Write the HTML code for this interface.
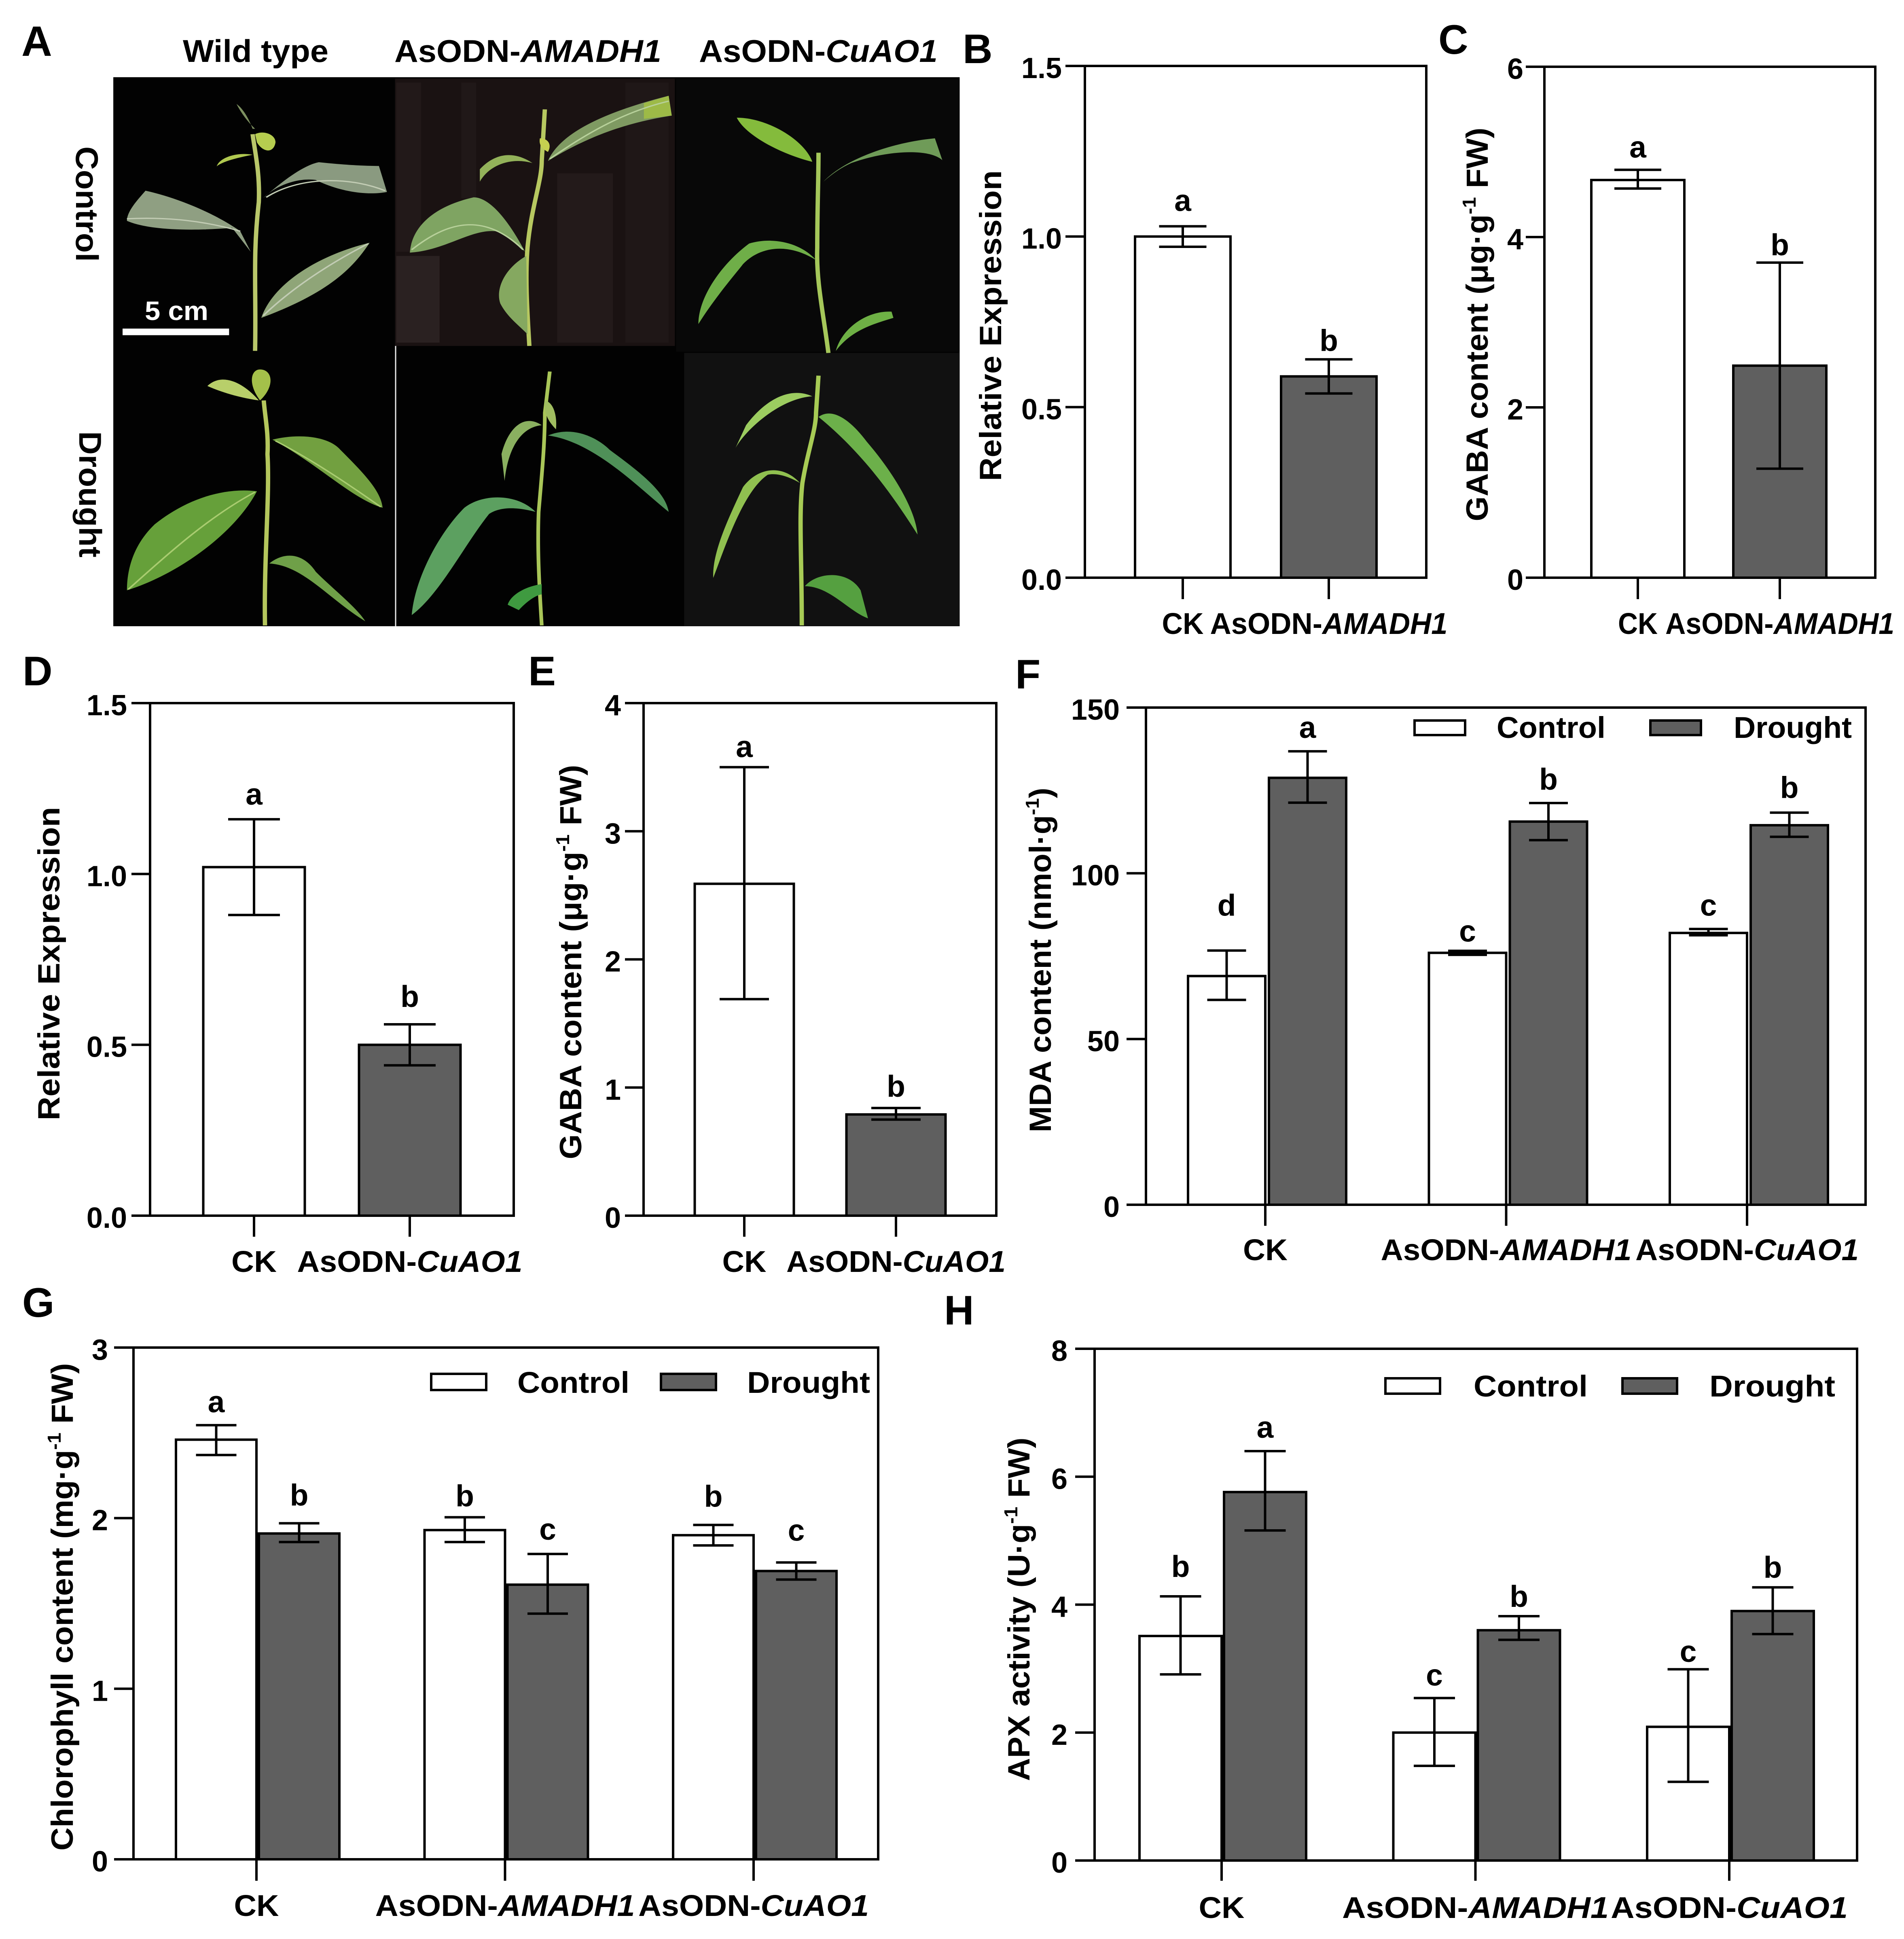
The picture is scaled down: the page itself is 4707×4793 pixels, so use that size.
<!DOCTYPE html>
<html lang="en">
<head>
<meta charset="utf-8">
<title>Eight-panel plant drought figure</title>
<style>
html,body{margin:0;padding:0;background:#fff}
svg{display:block}
text{font-family:"Liberation Sans",Arial,sans-serif;font-weight:bold;fill:#000}
</style>
</head>
<body>
<svg id="figure" xmlns="http://www.w3.org/2000/svg" width="4707" height="4793" viewBox="0 0 4707 4793">
<rect width="4707" height="4793" fill="#fff"/>

<g id="panel-a">
  <text x="53" y="138" font-size="105">A</text>
  <text x="452" y="153" font-size="78" textLength="360" lengthAdjust="spacingAndGlyphs">Wild type</text>
  <text x="975" y="153" font-size="78" textLength="660" lengthAdjust="spacingAndGlyphs">AsODN-<tspan font-style="italic">AMADH1</tspan></text>
  <text x="1728" y="153" font-size="78" textLength="590" lengthAdjust="spacingAndGlyphs">AsODN-<tspan font-style="italic">CuAO1</tspan></text>
  <text transform="translate(188 362) rotate(90)" font-size="78" textLength="285" lengthAdjust="spacingAndGlyphs">Control</text>
  <text transform="translate(196 1066) rotate(90)" font-size="78" textLength="312" lengthAdjust="spacingAndGlyphs">Drought</text>

  <g transform="scale(1.5306 1.0204)">
    <rect x="183" y="187" width="1367" height="1330" fill="#020202"/>
    <rect x="638" y="190" width="452" height="648" fill="#1a1212"/>
    <g>
      <rect x="640" y="200" width="40" height="410" fill="#221919"/><rect x="745" y="200" width="24" height="280" fill="#201818"/><rect x="900" y="420" width="90" height="410" fill="#231a1a"/><rect x="640" y="620" width="70" height="210" fill="#2a2121"/><rect x="1010" y="200" width="70" height="630" fill="#1f1717"/>
    </g>
    <rect x="1105" y="855" width="445" height="662" fill="#111111"/>
    <rect x="1092" y="190" width="458" height="662" fill="#080808"/>
    <rect x="638" y="838" width="2" height="679" fill="#e8e8e8"/>

    <g>
      <path d="M412,850 C414,700 408,620 418,490 C420,420 412,370 408,325" fill="none" stroke="#b9c76a" stroke-width="7"/>
      <path d="M405,610 L388,560 C350,520 290,480 235,462 C225,480 205,510 205,535 C240,558 310,560 375,552 Z" fill="#8f9f82"/>
      <path d="M425,480 C455,440 490,400 515,393 C560,400 590,402 612,402 L625,465 C590,475 545,462 510,436 C480,430 445,450 425,480 Z" fill="#8a9a80"/>
      <path d="M422,770 C440,690 510,620 597,588 C570,650 530,710 422,770 Z" fill="#8fa578"/>
      <path d="M412,325 C425,315 445,325 445,345 C442,372 425,370 415,345 Z" fill="#b6cd4f"/>
      <path d="M350,403 C355,380 385,368 408,375 C390,380 360,390 350,403 Z" fill="#b0c850"/>
      <path d="M408,312 C400,280 390,260 382,252 C390,275 400,295 412,312 Z" fill="#7d9060"/>
      <path d="M205,530 C270,525 330,535 388,560 M430,478 C480,430 560,425 622,462 M425,765 C470,700 530,640 595,590" fill="none" stroke="#c2ccb4" stroke-width="3"/>
    </g>
    <g>
      <path d="M855,838 C852,760 848,680 852,600 C858,500 875,440 875,390 L880,265" fill="none" stroke="#b7c860" stroke-width="7"/>
      <path d="M885,390 C905,320 980,270 1080,232 L1085,280 C1020,295 955,325 885,390 Z" fill="#7f9a62"/>
      <path d="M1040,250 L1080,232 L1085,280 L1040,288 Z" fill="#9dba47"/>
      <path d="M848,610 C820,530 790,478 765,478 C700,500 665,550 662,612 C720,606 760,555 800,560 C820,570 835,590 848,610 Z" fill="#7fa462"/>
      <path d="M860,395 C830,365 800,370 775,410 L775,440 C790,400 825,380 860,395 Z" fill="#93b25a"/>
      <path d="M850,620 C815,650 800,700 808,735 C820,770 840,790 852,810 Z" fill="#85a860"/>
      <path d="M872,335 C885,335 892,350 885,368 C875,360 870,350 872,335 Z" fill="#c5d050"/>
      <path d="M665,605 C720,540 780,510 845,605 M888,385 C950,320 1010,270 1080,245" fill="none" stroke="#b7d09a" stroke-width="3"/>
    </g>
    <g>
      <path d="M1338,855 C1330,760 1318,680 1320,600 C1320,500 1322,440 1322,370" fill="none" stroke="#a5c75a" stroke-width="7"/>
      <path d="M1312,392 C1300,340 1240,285 1190,285 C1205,330 1265,375 1312,392 Z" fill="#84bb3c"/>
      <path d="M1330,440 C1365,385 1440,345 1510,335 L1522,388 C1500,358 1430,365 1375,395 C1360,405 1345,420 1330,440 Z" fill="#6f9b58"/>
      <path d="M1318,630 C1295,590 1250,572 1210,590 C1165,640 1128,720 1128,785 C1155,720 1190,660 1200,640 C1225,600 1270,585 1318,630 Z" fill="#6fae48"/>
      <path d="M1350,850 C1360,795 1400,752 1440,755 L1443,770 C1410,785 1375,800 1350,850 Z" fill="#6eb045"/>
    </g>
    <g>
      <path d="M428,1515 C426,1350 436,1200 432,1100 C434,1050 428,1010 426,970" fill="none" stroke="#b4c65c" stroke-width="7"/>
      <path d="M418,970 C395,930 360,900 335,935 C365,955 395,965 418,970 Z" fill="#b8cf6a"/>
      <path d="M420,970 C400,930 405,895 420,895 C440,895 445,935 420,970 Z" fill="#a4c04a"/>
      <path d="M440,1065 C480,1050 530,1055 550,1090 C590,1150 615,1190 618,1230 C570,1210 510,1120 440,1065 Z" fill="#72a040"/>
      <path d="M415,1190 C360,1180 300,1210 250,1270 C215,1320 205,1380 205,1430 C290,1390 380,1290 415,1190 Z" fill="#66a03a"/>
      <path d="M435,1365 C460,1335 490,1340 510,1385 C540,1430 575,1470 590,1505 C530,1450 490,1370 435,1365 Z" fill="#6fa048"/>
      <path d="M207,1428 C280,1330 340,1250 412,1192 M445,1068 C500,1110 560,1170 615,1228" fill="none" stroke="#a9cc70" stroke-width="3"/>
    </g>
    <g>
      <path d="M875,1515 C870,1400 868,1320 870,1240 C875,1150 880,1080 880,1000 L888,900" fill="none" stroke="#a9c658" stroke-width="6"/>
      <path d="M875,1030 C845,1000 820,1040 810,1100 L815,1165 C820,1090 840,1035 875,1030 Z" fill="#8ab060"/>
      <path d="M885,1055 C925,1030 965,1060 985,1090 C1030,1140 1075,1190 1080,1240 C1030,1180 960,1070 885,1055 Z" fill="#4f9058"/>
      <path d="M865,1240 C835,1195 780,1195 750,1230 C710,1290 670,1400 665,1490 C710,1440 750,1320 790,1245 C810,1225 840,1230 865,1240 Z" fill="#5ca060"/>
      <path d="M875,1415 C850,1420 825,1440 820,1465 L838,1478 C855,1450 870,1440 875,1440 Z" fill="#3f9a40"/>
      <path d="M880,970 C895,975 900,1010 898,1040 C885,1020 878,1000 880,970 Z" fill="#a0bd60"/>
    </g>
    <g>
      <path d="M1295,1515 C1295,1350 1290,1250 1296,1170 C1305,1090 1318,1040 1318,1000 L1322,910" fill="none" stroke="#a7cb55" stroke-width="7"/>
      <path d="M1312,960 C1275,935 1235,970 1205,1030 L1188,1085 C1205,1040 1260,965 1312,960 Z" fill="#9ccc60"/>
      <path d="M1322,1010 C1345,985 1375,1020 1400,1070 C1440,1140 1478,1230 1482,1295 C1450,1220 1400,1105 1322,1010 Z" fill="#6cb04a"/>
      <path d="M1292,1170 C1265,1125 1225,1130 1200,1180 C1175,1260 1150,1340 1152,1400 C1170,1330 1200,1190 1240,1150 C1255,1145 1275,1155 1292,1170 Z" fill="#90c050"/>
      <path d="M1300,1420 C1320,1385 1370,1380 1390,1430 L1402,1498 C1370,1480 1340,1420 1300,1420 Z" fill="#55a040"/>
    </g>
    <rect x="198" y="796" width="172" height="16" fill="#fff"/>
  </g>
  <text x="358" y="791" font-size="66" style="fill:#fff" textLength="157" lengthAdjust="spacingAndGlyphs">5 cm</text>
</g>

<text x="2380" y="156" font-size="102">B</text>
<text x="3556" y="133" font-size="102">C</text>
<text x="56" y="1694" font-size="102">D</text>
<text x="1306" y="1694" font-size="102">E</text>
<text x="2510" y="1702" font-size="102">F</text>
<text x="55" y="3255" font-size="102">G</text>
<text x="2334" y="3274" font-size="102">H</text>
</svg>

<script>
// ---------- Chart data ----------
const bCategories = ['CK', 'AsODN-AMADH1'];
const bTickLabels = ['0.0', '0.5', '1.0', '1.5'];
const bValues = [1.0, 0.59];
const bUpper = [1.03, 0.64];
const bLower = [0.97, 0.54];
const bLetters = ['a', 'b'];

const cCategories = ['CK', 'AsODN-AMADH1'];
const cTickLabels = ['0', '2', '4', '6'];
const cValues = [4.67, 2.49];
const cUpper = [4.79, 3.7];
const cLower = [4.57, 1.28];
const cLetters = ['a', 'b'];

const dCategories = ['CK', 'AsODN-CuAO1'];
const dTickLabels = ['0.0', '0.5', '1.0', '1.5'];
const dValues = [1.02, 0.5];
const dUpper = [1.16, 0.56];
const dLower = [0.88, 0.44];
const dLetters = ['a', 'b'];

const eCategories = ['CK', 'AsODN-CuAO1'];
const eTickLabels = ['0', '1', '2', '3', '4'];
const eValues = [2.59, 0.79];
const eUpper = [3.5, 0.84];
const eLower = [1.69, 0.75];
const eLetters = ['a', 'b'];

const fCategories = ['CK', 'AsODN-AMADH1', 'AsODN-CuAO1'];
const fTickLabels = ['0', '50', '100', '150'];
const fControl = [69, 76, 82];
const fControlUpper = [76.7, 76.6, 83.2];
const fControlLower = [61.8, 75.4, 81.3];
const fControlLetters = ['d', 'c', 'c'];
const fDrought = [128.8, 115.6, 114.5];
const fDroughtUpper = [136.8, 121.2, 118.3];
const fDroughtLower = [121.3, 110, 111];
const fDroughtLetters = ['a', 'b', 'b'];

const gCategories = ['CK', 'AsODN-AMADH1', 'AsODN-CuAO1'];
const gTickLabels = ['0', '1', '2', '3'];
const gControl = [2.46, 1.93, 1.9];
const gControlUpper = [2.545, 2.005, 1.96];
const gControlLower = [2.37, 1.86, 1.84];
const gControlLetters = ['a', 'b', 'b'];
const gDrought = [1.91, 1.61, 1.69];
const gDroughtUpper = [1.97, 1.79, 1.74];
const gDroughtLower = [1.86, 1.44, 1.64];
const gDroughtLetters = ['b', 'c', 'c'];

const hCategories = ['CK', 'AsODN-AMADH1', 'AsODN-CuAO1'];
const hTickLabels = ['0', '2', '4', '6', '8'];
const hControl = [3.51, 2.0, 2.09];
const hControlUpper = [4.13, 2.54, 2.99];
const hControlLower = [2.91, 1.48, 1.23];
const hControlLetters = ['b', 'c', 'c'];
const hDrought = [5.76, 3.6, 3.9];
const hDroughtUpper = [6.4, 3.82, 4.27];
const hDroughtLower = [5.16, 3.45, 3.54];
const hDroughtLetters = ['a', 'b', 'b'];

const seriesNames = ['Control', 'Drought'];

// ---------- Layout (frame geometry, separate from the data) ----------
const layoutB = {id:'b', left:2682, right:3526, top:163, bottom:1428, tickLeft:2634, labelRight:2625, tickBottom:1481,
  x0:2924, step:361, barW:236, capW:117, xBase:1567, xLens:[103,587], titleX:2475, titleMid:805, titleLen:768,
  title:['Relative Expression'], gaps:[38,21]};
const layoutC = {id:'c', left:3818, right:4636, top:165, bottom:1428, tickLeft:3772, labelRight:3766, tickBottom:1481,
  x0:4049, step:351, barW:230, capW:116, xBase:1567, xLens:[98,566], titleX:3678, titleMid:802, titleLen:973,
  title:['GABA content (\u03BCg\u00B7g', '-1', ' FW)'], gaps:[30,18]};
const layoutD = {id:'d', left:371, right:1270, top:1738, bottom:3005, tickLeft:325, labelRight:314, tickBottom:3057,
  x0:628, step:385, barW:251, capW:128, xBase:3144, xLens:[112,557], titleX:147, titleMid:2382, titleLen:775,
  title:['Relative Expression'], gaps:[36,43]};
const layoutE = {id:'e', left:1591, right:2463, top:1738, bottom:3005, tickLeft:1545, labelRight:1535, tickBottom:3057,
  x0:1840, step:375, barW:245, capW:122, xBase:3144, xLens:[109,542], titleX:1437, titleMid:2378, titleLen:975,
  title:['GABA content (\u03BCg\u00B7g', '-1', ' FW)'], gaps:[25,28]};
const layoutF = {id:'f', left:2833, right:4612, top:1749, bottom:2978, tickLeft:2785, labelRight:2768, tickBottom:3030,
  x0:3128, step:595.5, barW:191, barGap:9, capW:96, xBase:3115, xLens:[110,620,552], titleX:2598, titleMid:2373, titleLen:852,
  title:['MDA content (nmol\u00B7g', '-1', ')'], controlGaps:[86,23,33], droughtGaps:[33,33,36],
  legend:{swatchY:1781, swatchH:36, swatchW:125, base:1824, swatchX:[3497,4080], textX:[3700,4286], textLen:[269,292]}};
const layoutG = {id:'g', left:330, right:2171, top:3331, bottom:4596, tickLeft:282, labelRight:267, tickBottom:4649,
  x0:634, step:614.5, barW:199, barGap:6, capW:100, xBase:4736, xLens:[111,642,570], titleX:180, titleMid:3972, titleLen:1205,
  title:['Chlorophyll content (mg\u00B7g', '-1', ' FW)'], controlGaps:[32,27,45], droughtGaps:[44,35,54],
  legend:{swatchY:3396, swatchH:40, swatchW:136, base:3443, swatchX:[1066,1634], textX:[1279,1847], textLen:[277,304]}};
const layoutH = {id:'h', left:2706, right:4591, top:3334, bottom:4599, tickLeft:2658, labelRight:2639, tickBottom:4649,
  x0:3020, step:627.5, barW:203, barGap:6, capW:102, xBase:4741, xLens:[113,659,586], titleX:2545, titleMid:3978, titleLen:849,
  title:['APX activity (U\u00B7g', '-1', ' FW)'], controlGaps:[48,31,18], droughtGaps:[33,23,24],
  legend:{swatchY:3407, swatchH:38, swatchW:135, base:3452, swatchX:[3425,4011], textX:[3643,4226], textLen:[282,311]}};

const INK = '#000';
const DARK = '#5f5f5f';
const LINE = 6;
const svg = document.getElementById('figure');

function mk(tag, attrs, parent) {
  const el = document.createElementNS('http://www.w3.org/2000/svg', tag);
  for (const k in attrs) el.setAttribute(k, attrs[k]);
  parent.appendChild(el);
  return el;
}
function yAxis(p, ticks) {
  const max = parseFloat(ticks[ticks.length - 1]);
  return v => p.bottom - (v / max) * (p.bottom - p.top);
}
function addCategoryText(el, label) {
  const cut = label.indexOf('-');
  if (cut < 0) { el.textContent = label; return; }
  el.appendChild(document.createTextNode(label.slice(0, cut + 1)));
  const it = mk('tspan', {'font-style': 'italic'}, el);
  it.textContent = label.slice(cut + 1);
}
function drawFrame(p, group, y, ticks, categories, tickX) {
  const box = mk('rect', {x:p.left, y:p.top, width:p.right-p.left, height:p.bottom-p.top, fill:'none', stroke:INK, 'stroke-width':LINE}, group);
  
  
  ticks.forEach(label => {
    const ty = y(parseFloat(label));
    const line = mk('line', {x1:p.tickLeft, x2:p.left, y1:ty, y2:ty, stroke:INK, 'stroke-width':LINE}, group);
    
    
    const t = mk('text', {x:p.labelRight, y:ty+30, 'font-size':72, 'text-anchor':'end'}, group);
    
    
    t.textContent = label;
  });
  categories.forEach((label, i) => {
    const cx = tickX(i);
    const line = mk('line', {x1:cx, x2:cx, y1:p.bottom, y2:p.tickBottom, stroke:INK, 'stroke-width':LINE}, group);
    
    
    const t = mk('text', {x:cx - p.xLens[i]/2, y:p.xBase, 'font-size':74, textLength:p.xLens[i], lengthAdjust:'spacingAndGlyphs'}, group);
    
    
    addCategoryText(t, label);
  });
  const title = mk('text', {transform:'translate(' + p.titleX + ' ' + (p.titleMid + p.titleLen/2) + ') rotate(-90)', 'font-size':76, textLength:p.titleLen, lengthAdjust:'spacingAndGlyphs'}, group);
  
  
  title.appendChild(document.createTextNode(p.title[0]));
  if (p.title.length > 1) {
    const sup = mk('tspan', {'font-size':46, dy:-30}, title);
    sup.textContent = p.title[1];
    const tail = mk('tspan', {dy:30}, title);
    tail.textContent = p.title[2];
  }
}
function drawBar(p, group, y, left, width, value, upper, lower, letter, gap, fill) {
  const top = y(value);
  const bar = mk('rect', {x:left, y:top, width:width, height:p.bottom-top, fill:fill, stroke:INK, 'stroke-width':LINE}, group);
  
  
  const cx = left + width/2;
  const stem = mk('line', {x1:cx, x2:cx, y1:y(upper), y2:y(lower), stroke:INK, 'stroke-width':LINE}, group);
  
  
  [upper, lower].forEach(v => {
    const cap = mk('line', {x1:cx-p.capW/2, x2:cx+p.capW/2, y1:y(v), y2:y(v), stroke:INK, 'stroke-width':LINE}, group);
    
    
  });
  const t = mk('text', {x:cx, y:y(upper)-gap, 'font-size':75, 'text-anchor':'middle'}, group);
  
  
  t.textContent = letter;
}
function drawSingle(p, categories, ticks, values, upper, lower, letters) {
  const group = mk('g', {}, svg);
  
  
  const y = yAxis(p, ticks);
  const tickX = i => p.x0 + i * p.step;
  values.forEach((v, i) => {
    drawBar(p, group, y, tickX(i) - p.barW/2, p.barW, v, upper[i], lower[i], letters[i], p.gaps[i], i === 0 ? '#fff' : DARK);
  });
  drawFrame(p, group, y, ticks, categories, tickX);
}
function drawLegend(p, group) {
  const lg = p.legend;
  seriesNames.forEach((name, i) => {
    const sw = mk('rect', {x:lg.swatchX[i], y:lg.swatchY, width:lg.swatchW, height:lg.swatchH, fill:i === 0 ? '#fff' : DARK, stroke:INK, 'stroke-width':LINE}, group);
    
    
    const t = mk('text', {x:lg.textX[i], y:lg.base, 'font-size':74, textLength:lg.textLen[i], lengthAdjust:'spacingAndGlyphs'}, group);
    
    
    t.textContent = name;
  });
}
function drawGrouped(p, categories, ticks, control, controlUp, controlLo, controlLetters, drought, droughtUp, droughtLo, droughtLetters) {
  const group = mk('g', {}, svg);
  
  
  const y = yAxis(p, ticks);
  const tickX = i => p.x0 + i * p.step;
  categories.forEach((c, i) => {
    drawBar(p, group, y, tickX(i) - p.barW, p.barW, control[i], controlUp[i], controlLo[i], controlLetters[i], p.controlGaps[i], '#fff');
    drawBar(p, group, y, tickX(i) + p.barGap, p.barW, drought[i], droughtUp[i], droughtLo[i], droughtLetters[i], p.droughtGaps[i], DARK);
  });
  drawFrame(p, group, y, ticks, categories, tickX);
  drawLegend(p, group);
}

drawSingle(layoutB, bCategories, bTickLabels, bValues, bUpper, bLower, bLetters);
drawSingle(layoutC, cCategories, cTickLabels, cValues, cUpper, cLower, cLetters);
drawSingle(layoutD, dCategories, dTickLabels, dValues, dUpper, dLower, dLetters);
drawSingle(layoutE, eCategories, eTickLabels, eValues, eUpper, eLower, eLetters);
drawGrouped(layoutF, fCategories, fTickLabels, fControl, fControlUpper, fControlLower, fControlLetters, fDrought, fDroughtUpper, fDroughtLower, fDroughtLetters);
drawGrouped(layoutG, gCategories, gTickLabels, gControl, gControlUpper, gControlLower, gControlLetters, gDrought, gDroughtUpper, gDroughtLower, gDroughtLetters);
drawGrouped(layoutH, hCategories, hTickLabels, hControl, hControlUpper, hControlLower, hControlLetters, hDrought, hDroughtUpper, hDroughtLower, hDroughtLetters);
</script>
</body>
</html>
